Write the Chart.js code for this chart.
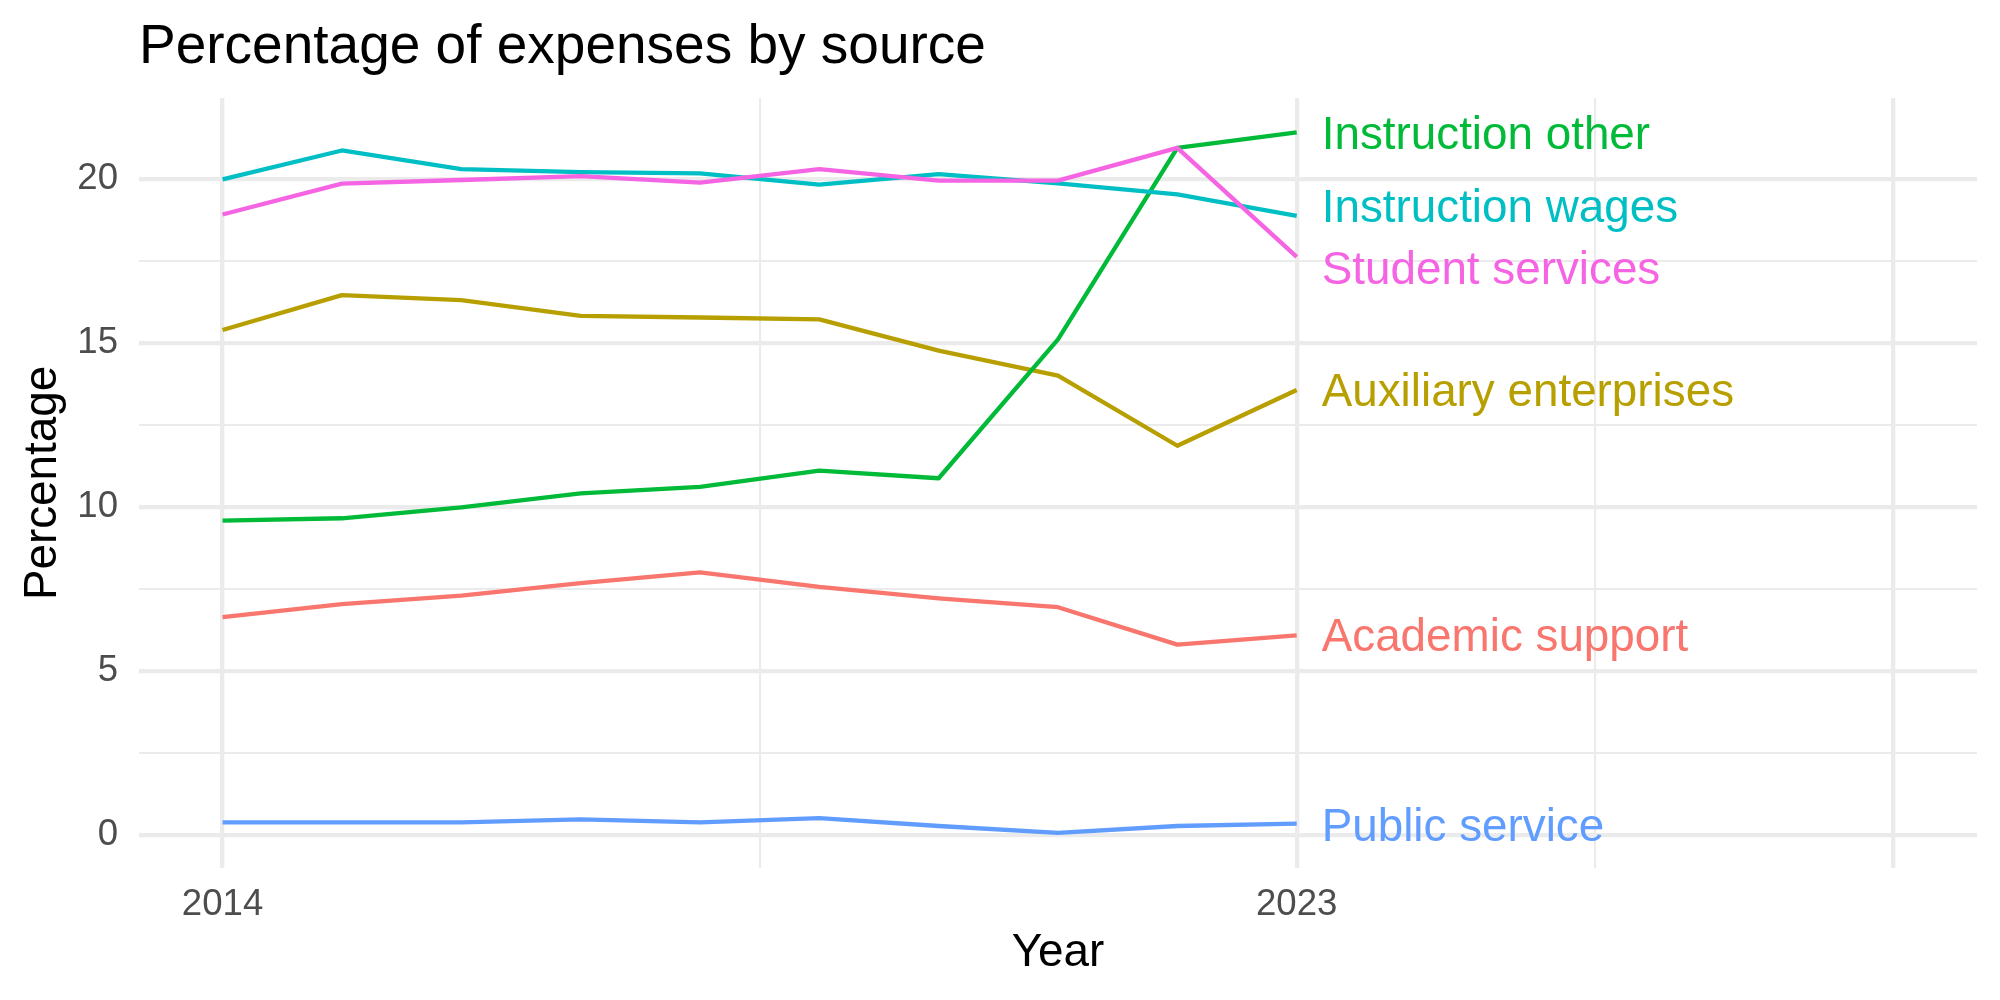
<!DOCTYPE html>
<html>
<head>
<meta charset="utf-8">
<script src="https://cdn.jsdelivr.net/npm/chart.js@4/dist/chart.umd.min.js"></script>
<style>
html,body{margin:0;padding:0;background:#ffffff;}
canvas{display:block;}
</style>
</head>
<body>
<canvas id="c" width="2000" height="1000"></canvas>
<script>
// ---- data ----
const years = [2014, 2015, 2016, 2017, 2018, 2019, 2020, 2021, 2022, 2023];
const seriesNames = ["Academic support", "Auxiliary enterprises", "Instruction other", "Instruction wages", "Public service", "Student services"];
const academicSupport      = [6.65, 7.04, 7.30, 7.68, 8.01, 7.57, 7.22, 6.95, 5.81, 6.09];
const auxiliaryEnterprises = [15.40, 16.46, 16.31, 15.83, 15.78, 15.72, 14.77, 14.01, 11.87, 13.57];
const instructionOther     = [9.59, 9.66, 9.99, 10.42, 10.62, 11.11, 10.88, 15.11, 20.95, 21.42];
const instructionWages     = [19.99, 20.87, 20.30, 20.21, 20.17, 19.83, 20.15, 19.87, 19.53, 18.88];
const publicService        = [0.39, 0.39, 0.39, 0.48, 0.39, 0.52, 0.28, 0.07, 0.28, 0.35];
const studentServices      = [18.92, 19.86, 19.97, 20.09, 19.89, 20.30, 19.95, 19.95, 20.95, 17.63];
// vertical anchor (in data units) of each end label, after label repelling
const labelAnchors = [6.10, 13.58, 21.42, 19.20, 0.33, 17.30];
const seriesColors = ["#F8766D", "#B79F00", "#00BA38", "#00BFC4", "#619CFF", "#F564E3"];
// axis ticks
const xMajorTicks = [2014, 2023, 2028];
const xMinorTicks = [2018.5, 2025.5];
const xTickLabels = ["2014", "2023"];
const yMajorTicks = [0, 5, 10, 15, 20];
const yMinorTicks = [2.5, 7.5, 12.5, 17.5];
const titleText = "Percentage of expenses by source";
const xTitle = "Year";
const yTitle = "Percentage";

// ---- chart ----
const FONT = '"Liberation Sans", Arial, Helvetica, sans-serif';
const allSeries = [academicSupport, auxiliaryEnterprises, instructionOther, instructionWages, publicService, studentServices];

const datasets = allSeries.map((vals, i) => ({
  label: seriesNames[i],
  data: vals.map((v, j) => ({x: years[j], y: v})),
  borderColor: seriesColors[i],
  backgroundColor: seriesColors[i],
  borderWidth: 4.3,
  pointRadius: 0,
  pointHoverRadius: 0,
  tension: 0,
  fill: false,
  order: allSeries.length - i,
  borderJoinStyle: 'round',
  borderCapStyle: 'butt'
}));

const textPlugin = {
  id: 'texts',
  beforeDraw(chart) {
    const c = chart.ctx;
    c.save();
    c.fillStyle = '#ffffff';
    c.fillRect(0, 0, chart.width, chart.height);
    c.restore();
  },
  afterDatasetsDraw(chart) {
    const c = chart.ctx;
    const xs = chart.scales.x, ys = chart.scales.y;
    const fs = 45.8;
    c.save();
    c.font = fs + 'px ' + FONT;
    c.textAlign = 'left';
    c.textBaseline = 'alphabetic';
    const lastYear = years[years.length - 1];
    seriesNames.forEach((name, i) => {
      c.fillStyle = seriesColors[i];
      const px = xs.getPixelForValue(lastYear) + 25;
      const py = ys.getPixelForValue(labelAnchors[i]) + 0.716 * fs / 2;
      c.fillText(name, px, py);
    });
    c.restore();
  },
  afterDraw(chart) {
    const c = chart.ctx;
    const a = chart.chartArea;
    c.save();
    c.fillStyle = '#000000';
    c.textBaseline = 'alphabetic';
    c.textAlign = 'left';
    c.font = '55px ' + FONT;
    c.fillText(titleText, a.left, 63);
    c.font = '45.8px ' + FONT;
    c.textAlign = 'center';
    c.fillText(xTitle, (a.left + a.right) / 2, 966);
    c.translate(55.5, (a.top + a.bottom) / 2);
    c.rotate(-Math.PI / 2);
    c.fillText(yTitle, 0, 0);
    c.restore();
  }
};

const isIn = (arr, v) => arr.some(t => Math.abs(t - v) < 1e-6);

new Chart(document.getElementById('c'), {
  type: 'line',
  data: {datasets},
  options: {
    responsive: false,
    animation: false,
    devicePixelRatio: 1,
    layout: {padding: {top: 98, right: 23, left: 0, bottom: 0}},
    plugins: {legend: {display: false}, tooltip: {enabled: false}, title: {display: false}},
    scales: {
      x: {
        type: 'linear',
        min: 2013.3,
        max: 2028.7,
        afterBuildTicks(scale) {
          scale.ticks = [...xMajorTicks, ...xMinorTicks].sort((a, b) => a - b).map(v => ({value: v}));
        },
        afterFit(scale) { scale.height = 132; },
        ticks: {
          autoSkip: false,
          maxRotation: 0,
          padding: 15,
          color: '#4D4D4D',
          font: {family: FONT, size: 36.6},
          callback(v) { const s = String(v); return xTickLabels.includes(s) ? s : ''; }
        },
        grid: {
          drawTicks: false,
          color: '#EBEBEB',
          lineWidth(ctx) { return ctx.tick && isIn(xMajorTicks, ctx.tick.value) ? 4.3 : 2.1; }
        },
        border: {display: false}
      },
      y: {
        type: 'linear',
        min: -1.0,
        max: 22.47,
        afterBuildTicks(scale) {
          scale.ticks = [...yMajorTicks, ...yMinorTicks].sort((a, b) => a - b).map(v => ({value: v}));
        },
        afterFit(scale) { scale.width = 139; },
        ticks: {
          autoSkip: false,
          padding: 21,
          color: '#4D4D4D',
          font: {family: FONT, size: 36.6},
          callback(v) { return isIn(yMajorTicks, v) ? String(v) : ''; }
        },
        grid: {
          drawTicks: false,
          color: '#EBEBEB',
          lineWidth(ctx) { return ctx.tick && isIn(yMajorTicks, ctx.tick.value) ? 4.3 : 2.1; }
        },
        border: {display: false}
      }
    }
  },
  plugins: [textPlugin]
});
</script>
</body>
</html>
